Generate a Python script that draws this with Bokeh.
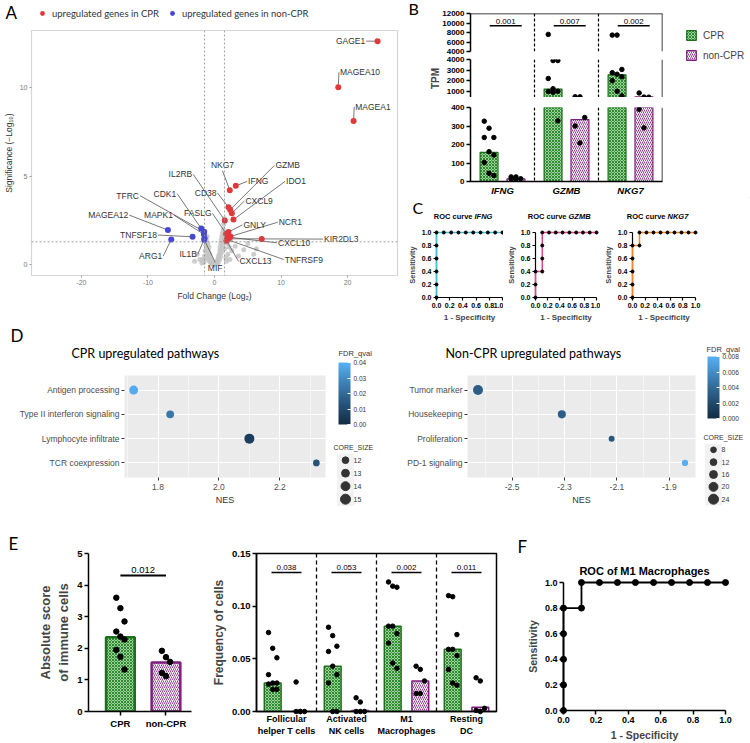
import math
from bokeh.plotting import figure
from bokeh.models import (Range1d, FactorRange, Span, Title, Legend, LegendItem,
                          FixedTicker, ColorBar, LinearColorMapper, PrintfTickFormatter,
                          ColumnDataSource)
from bokeh.layouts import row, column
from bokeh.embed import file_html
from bokeh.resources import INLINE
from bokeh.core.properties import value
from bokeh.transform import linear_cmap

# ===================== DATA =====================
# ---- A: volcano plot ----
FC_CUT = 1.5
SIG_CUT = 1.3
red_genes = ["GAGE1", "MAGEA10", "MAGEA1", "IFNG", "NKG7", "CD38", "GZMB", "CXCL9", "IDO1",
             "IL2RB", "GNLY", "FASLG", "NCR1", "CXCL10", "KIR2DL3", "TNFRSF9", "CXCL13", ""]
red_fc = [24.5, 18.6, 20.9, 3.2, 2.3, 2.1, 2.35, 2.6, 2.85, 1.55, 2.1, 1.75, 2.4, 2.3, 1.9, 1.95, 1.8, 7.1]
red_sig = [12.6, 10.0, 8.1, 4.45, 4.2, 3.25, 3.1, 2.9, 2.55, 2.5, 1.85, 1.75, 1.6, 1.55, 1.47, 1.42, 1.36, 1.45]
blue_genes = ["MAGEA12", "TNFSF18", "ARG1", "CDK1", "TFRC", "MAPK1", "IL1B", "MIF"]
blue_fc = [-7.0, -3.3, -6.5, -2.0, -1.55, -1.6, -1.5, -1.55]
blue_sig = [1.96, 1.58, 1.43, 2.05, 1.87, 1.72, 1.5, 1.42]
grey_fc = [-1.9, -1.8, -1.6, -1.5, -1.4, -1.3, -1.25, -1.2, -1.15, -1.1, -1.05, -1.0, -0.95, -0.9,
           -0.85, -0.8, -0.75, -0.7, -0.6, -0.55, -0.5, -0.4, -0.3, -0.2, -0.1, 0.0, 0.1, 0.2, 0.3,
           0.4, 0.5, 0.55, 0.6, 0.7, 0.75, 0.8, 0.85, 0.9, 0.95, 1.0, 1.05, 1.1, 1.15, 1.2, 1.25,
           1.3, 1.35, 1.4, 1.45, 1.5, 1.55, 1.6, 1.7, 1.8, 2.0, 2.2, 2.4, 2.6, 3.1, 3.6, 4.4, 5.0,
           5.9, 6.3, -1.7, -2.2, -2.6, -3.0, 1.9, 2.3]
grey_sig = [0.1, 0.3, 0.15, 0.5, 0.8, 1.1, 0.4, 1.4, 0.9, 1.6, 0.6, 1.2, 0.3, 0.8, 1.0, 0.5,
            0.2, 0.6, 0.35, 0.1, 0.25, 0.15, 0.05, 0.1, 0.02, 0.05, 0.03, 0.08, 0.12, 0.2, 0.3,
            0.1, 0.45, 0.6, 0.3, 0.8, 1.0, 0.5, 1.2, 1.4, 0.7, 1.6, 0.9, 1.8, 1.1, 2.0, 1.3, 2.3,
            1.5, 2.6, 0.9, 1.7, 0.4, 0.2, 0.6, 1.0, 1.4, 0.8, 1.05, 0.5, 0.85, 1.2, 0.6, 0.9, 0.2,
            0.3, 0.6, 0.2, 1.2, 0.3]

# ---- B: TPM bars (broken axis) ----
B_genes = ["IFNG", "GZMB", "NKG7"]
B_cpr_bar = [157, 1200, 2550]
B_non_bar = [14, 335, 460]
B_cpr_pts = [[326, 288, 238, 238, 161, 143, 103, 44, 32],
             [7600, 3900, 3900, 2200, 1230, 1000, 960, 900, 328],
             [7450, 7450, 3060, 2750, 2600, 2360, 1990, 1000, 550]]
B_non_pts = [[25, 25, 15, 14, 12],
             [470, 460, 346, 300, 208],
             [830, 440, 430, 390, 290]]
B_pvals = ["0.001", "0.007", "0.002"]
B_segments = [(4000, 12000), (400, 4000), (0, 400)]
B_seg_ticks = [[4000, 6000, 8000, 10000, 12000], [1000, 2000, 3000, 4000], [0, 100, 200, 300, 400]]
B_bracket_y = 9400

# ---- C: ROC curves ----
roc_genes = ["IFNG", "GZMB", "NKG7"]
roc_fpr = [[0, 0, 0, 0, 0, 0, 0.111, 0.222, 0.333, 0.444, 0.556, 0.667, 0.778, 0.889, 1.0],
           [0, 0, 0, 0.111, 0.111, 0.111, 0.111, 0.222, 0.333, 0.444, 0.556, 0.667, 0.778, 0.889, 1.0],
           [0, 0, 0, 0, 0, 0.111, 0.111, 0.222, 0.333, 0.444, 0.556, 0.667, 0.778, 0.889, 1.0]]
roc_tpr = [[0, 0.2, 0.4, 0.6, 0.8, 1, 1, 1, 1, 1, 1, 1, 1, 1, 1],
           [0, 0.2, 0.4, 0.4, 0.6, 0.8, 1, 1, 1, 1, 1, 1, 1, 1, 1],
           [0, 0.2, 0.4, 0.6, 0.8, 0.8, 1, 1, 1, 1, 1, 1, 1, 1, 1]]
roc_colors = ["#45c1d6", "#e8458b", "#f5842a"]
roc_ticks = [0.0, 0.2, 0.4, 0.6, 0.8, 1.0]

# ---- D: GSEA dot plots ----
D1_paths = ["Antigen processing", "Type II interferon signaling", "Lymphocyte infiltrate", "TCR coexpression"]
D1_nes = [1.72, 1.84, 2.10, 2.32]
D1_fdr = [0.038, 0.024, 0.006, 0.013]
D1_core = [14, 13, 15, 12]
D1_core_legend = [12, 13, 14, 15]
D1_fdr_ticks = [0.0, 0.01, 0.02, 0.03, 0.04]
D1_nes_ticks = [1.8, 2.0, 2.2]
D1_nes_minor = [1.7, 1.9, 2.1, 2.3]

D2_paths = ["Tumor marker", "Housekeeping", "Proliferation", "PD-1 signaling"]
D2_nes = [-2.63, -2.31, -2.12, -1.84]
D2_fdr = [0.0032, 0.0033, 0.0028, 0.0079]
D2_core = [24, 17, 9, 10]
D2_core_legend = [8, 12, 16, 20, 24]
D2_fdr_ticks = [0.0, 0.002, 0.004, 0.006, 0.008]
D2_nes_ticks = [-2.5, -2.3, -2.1, -1.9]
D2_nes_minor = [-2.6, -2.4, -2.2, -2.0, -1.8]

# ---- E: immune scores ----
E_groups = ["CPR", "non-CPR"]
E_bar = [2.35, 1.55]
E_cpr_pts = [3.6, 3.27, 2.85, 2.53, 2.37, 2.28, 1.95, 1.73, 1.33]
E_non_pts = [1.92, 1.72, 1.57, 1.22, 1.12]
E_pval = "0.012"
E_bracket_y = 4.3

cells = ["Follicular\nhelper T cells", "Activated\nNK cells", "M1\nMacrophages", "Resting\nDC"]
cell_cpr_bar = [0.027, 0.043, 0.081, 0.059]
cell_non_bar = [0.0, 0.001, 0.029, 0.004]
cell_cpr_pts = [[0.075, 0.060, 0.051, 0.035, 0.027, 0.027, 0.026, 0.021, 0.021],
                [0.080, 0.072, 0.062, 0.057, 0.043, 0.035, 0.027, 0.0, 0.0],
                [0.123, 0.119, 0.118, 0.081, 0.081, 0.074, 0.065, 0.046, 0.041],
                [0.110, 0.109, 0.073, 0.059, 0.059, 0.053, 0.040, 0.027, 0.025]]
cell_non_pts = [[0.028, 0.0, 0.0, 0.0, 0.0],
                [0.013, 0.009, 0.0, 0.0, 0.0],
                [0.043, 0.040, 0.029, 0.017, 0.017],
                [0.032, 0.029, 0.003, 0.001, 0.0]]
cell_pvals = ["0.038", "0.053", "0.002", "0.011"]
cell_bracket_y = 0.132

# ---- F: ROC of M1 macrophages ----
F_fpr = [0, 0, 0, 0, 0, 0.111, 0.111, 0.222, 0.333, 0.444, 0.556, 0.667, 0.778, 0.889, 1.0]
F_tpr = [0, 0.2, 0.4, 0.6, 0.8, 0.8, 1, 1, 1, 1, 1, 1, 1, 1, 1]

# ===================== STYLE =====================
FONT = "Liberation Sans"
LFONT = "Lato"
GREEN_LINE = "#1f6f1f"
PURPLE_LINE = "#7e1f7e"
CPR_STYLE = dict(fill_color="#9fd39f", hatch_pattern="diagonal_cross", hatch_color="#2f8a2f",
                 hatch_scale=3.0, hatch_weight=1.0, line_color=GREEN_LINE)
NON_STYLE = dict(fill_color="#ffffff", hatch_pattern="right_diagonal_line", hatch_color="#9a449a",
                 hatch_scale=4.0, hatch_weight=1.0, line_color=PURPLE_LINE)

LABEL_AT = {
    "GAGE1": (22.8, 12.6, "l"), "MAGEA10": (18.7, 10.85, "r"), "MAGEA1": (21.0, 8.9, "r"),
    "NKG7": (1.2, 5.3, "a"), "GZMB": (9.0, 5.6, "r"), "IFNG": (4.9, 4.7, "r"),
    "IDO1": (10.6, 4.7, "r"), "CD38": (0.45, 4.05, "l"), "CXCL9": (4.5, 3.6, "r"),
    "IL2RB": (-3.2, 5.1, "l"), "FASLG": (-0.3, 2.9, "l"), "GNLY": (4.2, 2.25, "r"),
    "NCR1": (9.5, 2.4, "r"), "CXCL10": (9.4, 1.24, "r"), "KIR2DL3": (16.3, 1.45, "r"),
    "TNFRSF9": (10.4, 0.3, "r"), "CXCL13": (3.6, 0.2, "r"), "MIF": (0.1, 0.15, "b"),
    "IL1B": (-2.5, 0.6, "l"), "CDK1": (-5.6, 4.0, "l"), "TFRC": (-11.2, 3.9, "l"),
    "MAPK1": (-6.1, 2.8, "l"), "MAGEA12": (-12.8, 2.8, "l"), "TNFSF18": (-8.5, 1.68, "l"),
    "ARG1": (-7.7, 0.5, "l"),
}
SIDE_ALIGN = {"l": ("right", "middle", -1, 0), "r": ("left", "middle", 1, 0),
              "a": ("center", "bottom", 0, -1), "b": ("center", "top", 0, 1)}


def mk(w, h, xr, yr, left, right, top, bottom, xaxis="below"):
    p = figure(width=w, height=h, x_range=xr, y_range=yr, output_backend="svg",
               toolbar_location=None, min_border_left=left, min_border_right=right,
               min_border_top=top, min_border_bottom=bottom, x_axis_location=xaxis)
    try:
        p.frame_align = False
    except Exception:
        pass
    p.grid.visible = False
    p.outline_line_color = None
    return p


def header(w, h):
    p = mk(w, h, Range1d(0, w), Range1d(0, h), 0, 0, 0, 0)
    p.axis.visible = False
    return p


def htext(p, xs, ys, texts, size, font=FONT, style="normal", align="left", color="black"):
    p.text(x=xs, y=ys, text=texts, text_align=align, text_baseline="middle",
           text_font=value(font), text_font_size=size, text_font_style=style, text_color=color)


def add_title(p, text, offset, size, font=LFONT, style="normal", align="left", standoff=0):
    t = Title(text=text, align=align, offset=offset, text_font=font, text_font_size=size,
              text_font_style=style, standoff=0, text_color="black")
    try:
        t.standoff = standoff
    except Exception:
        pass
    p.add_layout(t, "above")


def prism_axes(p, tick_fs="9px", lab_fs="10px", lw=1.5, tick_out=4):
    for ax in p.axis:
        ax.axis_line_width = lw
        ax.axis_line_color = "black"
        ax.major_tick_line_width = lw
        ax.major_tick_line_color = "black"
        ax.major_tick_out = tick_out
        ax.major_tick_in = 0
        ax.minor_tick_line_color = None
        ax.major_label_text_font = FONT
        ax.major_label_text_font_style = "bold"
        ax.major_label_text_font_size = tick_fs
        ax.major_label_text_color = "black"
        ax.major_label_standoff = 2
        ax.axis_label_text_font = FONT
        ax.axis_label_text_font_style = "bold"
        ax.axis_label_text_font_size = lab_fs
        ax.axis_label_standoff = 3


def jit(n, step):
    return [((k % 3) - 1) * step for k in range(n)]


def lab_palette(c1, c2, n=256):
    def hex2rgb(h):
        return [int(h[i:i + 2], 16) / 255 for i in (1, 3, 5)]

    def lin(c):
        return c / 12.92 if c <= 0.04045 else ((c + 0.055) / 1.055) ** 2.4

    def delin(c):
        v = 12.92 * c if c <= 0.0031308 else 1.055 * c ** (1 / 2.4) - 0.055
        return max(0, min(255, round(v * 255)))

    def f(t):
        return t ** (1 / 3) if t > (6 / 29) ** 3 else t / (3 * (6 / 29) ** 2) + 4 / 29

    def finv(t):
        return t ** 3 if t > 6 / 29 else 3 * (6 / 29) ** 2 * (t - 4 / 29)

    Xn, Yn, Zn = 0.95047, 1.0, 1.08883

    def to_lab(h):
        r, g, b = [lin(c) for c in hex2rgb(h)]
        X = 0.4124 * r + 0.3576 * g + 0.1805 * b
        Y = 0.2126 * r + 0.7152 * g + 0.0722 * b
        Z = 0.0193 * r + 0.1192 * g + 0.9505 * b
        return (116 * f(Y / Yn) - 16, 500 * (f(X / Xn) - f(Y / Yn)), 200 * (f(Y / Yn) - f(Z / Zn)))

    def to_hex(L, a, b):
        fy = (L + 16) / 116
        X, Y, Z = Xn * finv(fy + a / 500), Yn * finv(fy), Zn * finv(fy - b / 200)
        r = 3.2406 * X - 1.5372 * Y - 0.4986 * Z
        g = -0.9689 * X + 1.8758 * Y + 0.0415 * Z
        bb = 0.0557 * X - 0.2040 * Y + 1.0570 * Z
        return "#%02x%02x%02x" % tuple(delin(max(0, c)) for c in (r, g, bb))

    l1, l2 = to_lab(c1), to_lab(c2)
    return [to_hex(*[l1[j] + (l2[j] - l1[j]) * k / (n - 1) for j in range(3)]) for k in range(n)]


PALETTE = lab_palette("#132B43", "#56B1F7")

# ===================== PANEL A =====================
hdrA = header(400, 30)
htext(hdrA, [5], [18], ["A"], "17px", font=LFONT)
d_red = hdrA.scatter([-50], [-50], size=6, fill_color="#e0393b", line_color=None)
d_blue = hdrA.scatter([-50], [-50], size=6, fill_color="#4646d4", line_color=None)
for rr, txt, lx in ((d_red, "upregulated genes in CPR", 36), (d_blue, "upregulated genes in non-CPR", 166)):
    hdrA.add_layout(Legend(items=[LegendItem(label=txt, renderers=[rr])], location=(lx, 11),
                           border_line_color=None, background_fill_alpha=0, padding=0, margin=0,
                           glyph_width=12, glyph_height=12, label_standoff=4,
                           label_text_font=LFONT, label_text_font_size="9.5px",
                           label_text_color="#333333"))

WA, HA, A_l, A_r, A_t, A_b = 400, 295, 28, 3, 0, 50
pA = mk(WA, HA, Range1d(-27.5, 27.5), Range1d(-0.6, 13.2), A_l, A_r, A_t, A_b)
pA.outline_line_color = "#d6d6d6"
pA.outline_line_width = 1.2
for ax in pA.axis:
    ax.axis_line_color = None
    ax.major_tick_line_color = "#9a9a9a"
    ax.major_tick_out = 2
    ax.major_tick_in = 0
    ax.minor_tick_line_color = None
    ax.major_label_text_font = FONT
    ax.major_label_text_font_size = "7px"
    ax.major_label_text_color = "#7a7a7a"
    ax.major_label_standoff = 2
    ax.axis_label_text_font = FONT
    ax.axis_label_text_font_size = "8.5px"
    ax.axis_label_text_font_style = "normal"
    ax.axis_label_text_color = "#333333"
    ax.axis_label_standoff = 3
pA.xaxis.ticker = FixedTicker(ticks=[-20, -10, 0, 10, 20])
pA.xaxis.formatter = PrintfTickFormatter(format="%d")
pA.yaxis.ticker = FixedTicker(ticks=[0, 5, 10])
pA.xaxis.axis_label = "Fold Change (Log\u2082)"
pA.yaxis.axis_label = "Significance (\u2212Log\u2081\u2080)"
for xc in (-FC_CUT, FC_CUT):
    pA.add_layout(Span(location=xc, dimension="height", line_color="#8c8c8c",
                       line_dash="2 2", line_width=0.8))
pA.add_layout(Span(location=SIG_CUT, dimension="width", line_color="#8c8c8c",
                   line_dash="2 2", line_width=0.8))
pA.scatter(grey_fc, grey_sig, size=5, fill_color="#c4c4c4", line_color=None, fill_alpha=0.85)

pts = {g: (x, y) for g, x, y in zip(red_genes + blue_genes, red_fc + blue_fc, red_sig + blue_sig)}
seg = dict(x0=[], y0=[], x1=[], y1=[])
for g, (ax_, ay_, side) in LABEL_AT.items():
    px, py = pts[g]
    seg["x0"].append(ax_); seg["y0"].append(ay_); seg["x1"].append(px); seg["y1"].append(py)
pA.segment(x0="x0", y0="y0", x1="x1", y1="y1", source=ColumnDataSource(seg),
           line_color="#555555", line_width=0.8)
pA.scatter(red_fc, red_sig, size=6, fill_color="#e0393b", line_color=None)
pA.scatter(blue_fc, blue_sig, size=6, fill_color="#4646d4", line_color=None)
for side, (al, bl, dx, dy) in SIDE_ALIGN.items():
    items = [(g, v) for g, v in LABEL_AT.items() if v[2] == side]
    src = ColumnDataSource(dict(x=[v[0] for g, v in items], y=[v[1] for g, v in items],
                                t=[g for g, v in items]))
    pA.text(x="x", y="y", text="t", source=src, text_align=al, text_baseline=bl,
            x_offset=dx, y_offset=dy, text_font=value(FONT), text_font_size="8.5px",
            text_color="#333333")

# ===================== PANEL B =====================
letB = header(25, 198)
htext(letB, [8], [190], ["B"], "16px", font=LFONT)
WB, B_l, B_r = 242, 45, 5
B_specs = [(55, 13, 4), (42, 4, 0), (101, 10, 15)]
Bx = Range1d(0, 3)
figsB = []
xs_c = [i + 0.5 - 0.21 for i in range(3)]
xs_n = [i + 0.5 + 0.21 for i in range(3)]
for si, ((lo, hi), ticks, (h, t, b)) in enumerate(zip(B_segments, B_seg_ticks, B_specs)):
    p = mk(WB, h, Bx, Range1d(lo, hi), B_l, B_r, t, b, xaxis=("below" if si == 2 else None))
    below = lo - 0.06 * (hi - lo)
    for xs, tops, style in ((xs_c, B_cpr_bar, CPR_STYLE), (xs_n, B_non_bar, NON_STYLE)):
        keep = [(x, v) for x, v in zip(xs, tops) if v > lo]
        if keep:
            p.vbar(x=[k[0] for k in keep], top=[min(k[1], hi + 0.06 * (hi - lo)) for k in keep],
                   bottom=below if lo > 0 else 0, width=0.28, line_width=1.2, **style)
    for i in range(3):
        for xs, vals in ((xs_c, B_cpr_pts[i]), (xs_n, B_non_pts[i])):
            keep = [(xs[i] + d, v) for d, v in zip(jit(len(vals), 0.075), vals) if lo <= v <= hi]
            if keep:
                p.scatter([k[0] for k in keep], [k[1] for k in keep], size=4.5, color="black")
    for xs in (1, 2):
        p.add_layout(Span(location=xs, dimension="height", line_color="black",
                          line_dash="3 2", line_width=1.2))
    p.add_layout(Span(location=3, dimension="height", line_color="black", line_width=1.5))
    prism_axes(p, tick_fs="8px", lab_fs="10px")
    p.yaxis.ticker = FixedTicker(ticks=ticks)
    if si == 0:
        p.add_layout(Span(location=hi, dimension="width", line_color="black", line_width=1.5))
        p.segment(x0=[i + 0.3 for i in range(3)], x1=[i + 0.8 for i in range(3)],
                  y0=[B_bracket_y] * 3, y1=[B_bracket_y] * 3, line_color="black", line_width=1.5)
        p.text(x=[i + 0.55 for i in range(3)], y=[B_bracket_y] * 3, text=B_pvals,
               text_align="center", text_baseline="bottom", y_offset=-2,
               text_font=value(FONT), text_font_size="8px", text_color="black")
    if si == 1:
        p.yaxis.axis_label = "TPM"
    if si == 2:
        p.xaxis.ticker = FixedTicker(ticks=[0.5, 1.5, 2.5])
        p.xaxis.major_label_overrides = {0.5: "IFNG", 1.5: "GZMB", 2.5: "NKG7"}
        p.xaxis.major_label_text_font_style = "bold italic"
        p.xaxis.major_label_text_font_size = "9.5px"
        p.xaxis.major_tick_out = 0
        p.xaxis.major_label_standoff = 3
    figsB.append(p)

legfig = header(83, 198)
rl1 = legfig.vbar(x=[500], top=[1], width=0.3, line_width=1.2, **CPR_STYLE)
rl2 = legfig.vbar(x=[500], top=[1], width=0.3, line_width=1.2, **NON_STYLE)
legfig.add_layout(Legend(items=[LegendItem(label="CPR", renderers=[rl1]),
                                LegendItem(label="non-CPR", renderers=[rl2])],
                         location=(18, 137), border_line_color=None, background_fill_alpha=0,
                         padding=0, margin=0, spacing=8, glyph_width=12, glyph_height=12,
                         label_standoff=6, label_text_font=FONT, label_text_font_size="10px"))

# ===================== PANEL C =====================
hdrC = header(350, 30)
C_specs = [(103, 36, 1), (97, 27, 4), (150, 29, 55)]
C_h, C_t, C_b = 97, 4, 28
htext(hdrC, [12], [21], ["C"], "16px", font=LFONT)
x0 = 0
centers = []
for (w, l, r) in C_specs:
    centers.append(x0 + l + (w - l - r) / 2)
    x0 += w
htext(hdrC, [c + 3 for c in centers], [12] * 3, ["ROC curve"] * 3, "7.5px", style="bold", align="right")
htext(hdrC, [c + 5 for c in centers], [12] * 3, roc_genes, "7.5px", style="bold italic")
figsC = []
for gi, (w, l, r) in enumerate(C_specs):
    p = mk(w, C_h, Range1d(0, 1), Range1d(0, 1), l, r, C_t, C_b)
    p.line(roc_fpr[gi], roc_tpr[gi], line_color=roc_colors[gi], line_width=1.5, level="overlay")
    p.scatter(roc_fpr[gi], roc_tpr[gi], size=3, color="black", level="overlay")
    prism_axes(p, tick_fs="7px", lab_fs="8px", lw=1.2, tick_out=3)
    for ax in p.axis:
        ax.axis_label_standoff = 2
    p.xaxis.ticker = FixedTicker(ticks=roc_ticks)
    p.yaxis.ticker = FixedTicker(ticks=roc_ticks)
    p.xaxis.formatter = PrintfTickFormatter(format="%.1f")
    p.yaxis.formatter = PrintfTickFormatter(format="%.1f")
    p.xaxis.axis_label = "1 - Specificity"
    p.yaxis.axis_label = "Sensitivity"
    p.yaxis.axis_label_text_font_size = "7.5px"
    figsC.append(p)


# ===================== PANEL D =====================
def size_px(v, vmin, vmax, smin, smax):
    return smin + (v - vmin) / (vmax - vmin) * (smax - smin)


def gsea(paths, nes, fdr, core, xr, ticks, minor, W, left, cb_hi, smin, smax, cmin, cmax):
    H, t, b, r = 145, 0, 43, 5
    p = mk(W, H, Range1d(*xr), FactorRange(factors=list(reversed(paths)), range_padding=0.05),
           left, r, t, b)
    p.background_fill_color = "#EBEBEB"
    p.grid.visible = True
    p.xgrid.grid_line_color = "white"
    p.xgrid.grid_line_width = 1.1
    p.xgrid.minor_grid_line_color = "white"
    p.xgrid.minor_grid_line_width = 0.5
    p.ygrid.grid_line_color = "white"
    p.ygrid.grid_line_width = 1.1
    p.xaxis.ticker = FixedTicker(ticks=ticks, minor_ticks=minor)
    p.xaxis.formatter = PrintfTickFormatter(format="%.1f")
    for ax in p.axis:
        ax.axis_line_color = None
        ax.major_tick_line_color = "#333333"
        ax.major_tick_out = 3
        ax.major_tick_in = 0
        ax.minor_tick_line_color = None
        ax.major_label_text_font = FONT
        ax.major_label_text_font_size = "8.5px"
        ax.major_label_text_color = "#4D4D4D"
        ax.major_label_standoff = 2
        ax.axis_label_text_font = FONT
        ax.axis_label_text_font_style = "normal"
        ax.axis_label_text_font_size = "9px"
        ax.axis_label_text_color = "#333333"
        ax.axis_label_standoff = 2
    p.xaxis.axis_label = "NES"
    src = ColumnDataSource(dict(x=nes, y=paths, fdr=fdr,
                                sz=[size_px(v, cmin, cmax, smin, smax) for v in core]))
    p.scatter(x="x", y="y", size="sz", source=src,
              fill_color=linear_cmap("fdr", PALETTE, 0, cb_hi), line_color=None)
    return p


def side_fig(W, core_leg, key_top, pitch, cx, tx, cb_hi, cb_ticks, cb_fmt, cb_x, cb_y, cb_h,
             smin, smax, core_title_xy, fdr_title_xy):
    H = 195
    s = header(W, H)
    ys = [key_top - k * pitch for k in range(len(core_leg))]
    labels_ = [str(v) for v in core_leg]
    s.rect(x=[cx] * len(ys), y=ys, width=17, height=pitch, fill_color="#F2F2F2", line_color=None)
    s.scatter([cx] * len(ys), ys,
              size=[size_px(v, min(core_leg), max(core_leg), smin, smax) for v in core_leg],
              color="#333333")
    htext(s, [tx] * len(ys), ys, labels_, "7px", color="#333333")
    htext(s, [core_title_xy[0]], [core_title_xy[1]], ["CORE_SIZE"], "7px", color="#333333")
    htext(s, [fdr_title_xy[0]], [fdr_title_xy[1]], ["FDR_qval"], "7.5px", color="#333333")
    mapper = LinearColorMapper(palette=PALETTE, low=0, high=cb_hi)
    cb = ColorBar(color_mapper=mapper, location=(cb_x, cb_y), width=12, height=cb_h,
                  orientation="vertical",
                  ticker=FixedTicker(ticks=cb_ticks), formatter=PrintfTickFormatter(format=cb_fmt),
                  major_label_text_font=FONT, major_label_text_font_size="6.5px",
                  major_label_text_color="#333333", major_tick_line_color="white",
                  major_tick_in=3, major_tick_out=0, label_standoff=3, padding=0,
                  bar_line_color=None, background_fill_alpha=0, border_line_color=None)
    s.add_layout(cb)
    return s


hdrD1 = header(330, 50)
htext(hdrD1, [10], [40], ["D"], "17px", font=LFONT)
htext(hdrD1, [71], [22], ["CPR upregulated pathways"], "12.5px", font=LFONT)
pD1 = gsea(D1_paths, D1_nes, D1_fdr, D1_core, (1.69, 2.35), D1_nes_ticks,
           D1_nes_minor, 330, 124, 0.04, 6.7, 10, 12, 15)
sD1 = side_fig(45, D1_core_legend, 60.3, 13, 15, 23, 0.04, D1_fdr_ticks, "%.2f", 8, 96, 62,
               6.7, 10, (3, 73.3), (8, 167))

hdrD2 = header(325, 50)
htext(hdrD2, [70], [22], ["Non-CPR upregulated pathways"], "12.5px", font=LFONT)
pD2 = gsea(D2_paths, D2_nes, D2_fdr, D2_core, (-2.67, -1.80), D2_nes_ticks,
           D2_nes_minor, 325, 92, 0.008, 5.7, 10, 8, 24)
sD2 = side_fig(50, D2_core_legend, 70.7, 12.35, 13, 21, 0.008, D2_fdr_ticks, "%.3f", 7, 102, 62,
               5.7, 10, (3, 82.7), (6, 171))

# ===================== PANEL E =====================
E_h, E_t, E_b = 223, 33, 32
pE1 = mk(193, E_h, Range1d(-0.7, 1.56), Range1d(0, 5), 88, 2, E_t, E_b)
pE1.vbar(x=[0], top=[E_bar[0]], width=0.63, line_width=2.5, **CPR_STYLE)
pE1.vbar(x=[1], top=[E_bar[1]], width=0.63, line_width=2.5, **NON_STYLE)
pE1.scatter([0 + d for d in jit(len(E_cpr_pts), 0.09)], E_cpr_pts, size=5.5, color="black")
pE1.scatter([1 + d for d in jit(len(E_non_pts), 0.09)], E_non_pts, size=5.5, color="black")
pE1.segment(x0=[0], x1=[1], y0=[E_bracket_y], y1=[E_bracket_y], line_color="black", line_width=2)
pE1.text(x=[0.5], y=[E_bracket_y], text=[E_pval], text_align="center", text_baseline="bottom",
         y_offset=-3, text_font=value(FONT), text_font_size="9.5px", text_color="black")
prism_axes(pE1, tick_fs="9.5px", lab_fs="13px")
pE1.xaxis.ticker = FixedTicker(ticks=[0, 1])
pE1.xaxis.major_label_overrides = {0: E_groups[0], 1: E_groups[1]}
pE1.yaxis.ticker = FixedTicker(ticks=[0, 1, 2, 3, 4, 5])
pE1.yaxis.axis_label = "Absolute score\nof immune cells"
add_title(pE1, "E", -80, "17px")

pE2 = mk(307, E_h, Range1d(0, 4), Range1d(0, 0.15), 63, 4, E_t, E_b)
pE2.outline_line_color = "black"
pE2.outline_line_width = 1.5
cx_c = [i + 0.5 - 0.23 for i in range(4)]
cx_n = [i + 0.5 + 0.23 for i in range(4)]
pE2.vbar(x=cx_c, top=cell_cpr_bar, width=0.28, line_width=1.5, **CPR_STYLE)
pE2.vbar(x=cx_n, top=cell_non_bar, width=0.28, line_width=1.5, **NON_STYLE)
for i in range(4):
    pE2.scatter([cx_c[i] + d for d in jit(len(cell_cpr_pts[i]), 0.07)], cell_cpr_pts[i],
                size=4.5, color="black", level="overlay")
    pE2.scatter([cx_n[i] + d for d in jit(len(cell_non_pts[i]), 0.07)], cell_non_pts[i],
                size=4.5, color="black", level="overlay")
for xs in (1, 2, 3):
    pE2.add_layout(Span(location=xs, dimension="height", line_color="black",
                        line_dash="4 3", line_width=1.3))
pE2.segment(x0=[i + 0.25 for i in range(4)], x1=[i + 0.75 for i in range(4)],
            y0=[cell_bracket_y] * 4, y1=[cell_bracket_y] * 4, line_color="black", line_width=1.5)
pE2.text(x=[i + 0.5 for i in range(4)], y=[cell_bracket_y] * 4, text=cell_pvals,
         text_align="center", text_baseline="bottom", y_offset=-2,
         text_font=value(FONT), text_font_size="8px", text_color="black")
prism_axes(pE2, tick_fs="9.5px", lab_fs="12px")
pE2.xaxis.ticker = FixedTicker(ticks=[0.5, 1.5, 2.5, 3.5])
pE2.xaxis.major_label_overrides = {i + 0.5: c for i, c in enumerate(cells)}
pE2.xaxis.major_tick_out = 0
pE2.xaxis.major_label_text_font_size = "9px"
pE2.yaxis.ticker = FixedTicker(ticks=[0, 0.05, 0.10, 0.15])
pE2.yaxis.formatter = PrintfTickFormatter(format="%.2f")
pE2.yaxis.axis_label = "Frequency of cells"

# ===================== PANEL F =====================
pF = mk(250, E_h, Range1d(0, 1), Range1d(0, 1), 63, 25, 62, 32)
pF.line(F_fpr, F_tpr, line_color="black", line_width=1.8, level="overlay")
pF.scatter(F_fpr, F_tpr, size=6, color="black", level="overlay")
prism_axes(pF, tick_fs="9px", lab_fs="10.5px")
pF.xaxis.ticker = FixedTicker(ticks=roc_ticks)
pF.yaxis.ticker = FixedTicker(ticks=roc_ticks)
pF.xaxis.formatter = PrintfTickFormatter(format="%.1f")
pF.yaxis.formatter = PrintfTickFormatter(format="%.1f")
pF.xaxis.axis_label = "1 - Specificity"
pF.yaxis.axis_label = "Sensitivity"
add_title(pF, "ROC of M1 Macrophages", 0, "11px", font=FONT, style="bold", align="center", standoff=12)
add_title(pF, "F", -46, "17px")

# ===================== LAYOUT =====================
left_top = column(hdrA, pA)
right_top = column(row(letB, column(*figsB), legfig), hdrC, row(*figsC))
layout = column(row(left_top, right_top),
                row(column(hdrD1, pD1), sD1, column(hdrD2, pD2), sD2),
                row(pE1, pE2, pF))
open("out.html", "w").write(file_html(layout, INLINE))
